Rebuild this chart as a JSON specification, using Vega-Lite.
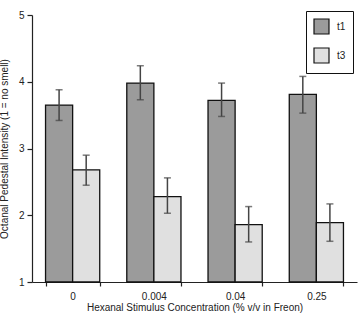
{
  "$schema": "https://vega.github.io/schema/vega-lite/v6.json",
  "autosize": "none",
  "width": 325,
  "height": 267,
  "padding": {"left": 32, "top": 15, "right": 1, "bottom": 32},
  "background": "white",
  "config": {
    "font": "Liberation Sans",
    "view": {"stroke": null},
    "axis": {"grid": false, "domainColor": "#222", "tickColor": "#222", "labelColor": "#222", "titleColor": "#222", "labelFontSize": 10, "titleFontSize": 10, "titleFontWeight": "normal", "domainWidth": 1.2, "tickWidth": 1.2}
  },
  "data": {
    "values": [
      {"conc": "0", "series": "t1", "mean": 3.65, "lo": 3.42, "hi": 3.88},
      {"conc": "0", "series": "t3", "mean": 2.68, "lo": 2.45, "hi": 2.90},
      {"conc": "0.004", "series": "t1", "mean": 3.98, "lo": 3.73, "hi": 4.24},
      {"conc": "0.004", "series": "t3", "mean": 2.28, "lo": 2.03, "hi": 2.56},
      {"conc": "0.04", "series": "t1", "mean": 3.72, "lo": 3.48, "hi": 3.98},
      {"conc": "0.04", "series": "t3", "mean": 1.86, "lo": 1.60, "hi": 2.13},
      {"conc": "0.25", "series": "t1", "mean": 3.81, "lo": 3.53, "hi": 4.08},
      {"conc": "0.25", "series": "t3", "mean": 1.89, "lo": 1.61, "hi": 2.17}
    ]
  },
  "encoding": {
    "x": {
      "field": "conc", "type": "nominal", "sort": ["0", "0.004", "0.04", "0.25"],
      "scale": {"paddingInner": 0.333, "paddingOuter": 0.1667},
      "axis": {"title": "Hexanal Stimulus Concentration (% v/v in Freon)", "labelAngle": 0, "tickBand": "extent", "tickSize": 4, "labelPadding": 5, "titlePadding": 1}
    },
    "xOffset": {"field": "series", "type": "nominal", "scale": {"paddingInner": 0, "paddingOuter": 0}}
  },
  "layer": [
    {
      "mark": {"type": "bar", "stroke": "#111", "strokeWidth": 1.3},
      "encoding": {
        "y": {
          "field": "mean", "type": "quantitative",
          "scale": {"domain": [1, 5], "nice": false, "zero": false},
          "axis": {"title": "Octanal Pedestal Intensity (1 = no smell)", "values": [1, 2, 3, 4, 5], "format": "d", "tickSize": 5, "labelPadding": 3, "titlePadding": 9}
        },
        "y2": {"datum": 1},
        "fill": {
          "field": "series", "type": "nominal",
          "scale": {"domain": ["t1", "t3"], "range": ["#9b9b9b", "#e0e0e0"]},
          "legend": {
            "title": null, "orient": "none", "legendX": 274, "legendY": -4,
            "symbolType": "square", "symbolSize": 225, "symbolStrokeColor": "#111", "symbolStrokeWidth": 1.2,
            "strokeColor": "#111", "padding": 7, "rowPadding": 8, "labelFontSize": 10, "labelColor": "#222", "labelOffset": 7
          }
        }
      }
    },
    {
      "mark": {"type": "rule", "color": "#444", "strokeWidth": 1.5},
      "encoding": {
        "y": {"field": "lo", "type": "quantitative", "axis": {"title": "Octanal Pedestal Intensity (1 = no smell)", "values": [1, 2, 3, 4, 5], "format": "d", "tickSize": 5, "labelPadding": 3, "titlePadding": 9}},
        "y2": {"field": "hi"}
      }
    },
    {
      "mark": {"type": "tick", "color": "#444", "size": 7, "thickness": 1.5},
      "encoding": {"y": {"field": "lo", "type": "quantitative", "axis": {"title": "Octanal Pedestal Intensity (1 = no smell)", "values": [1, 2, 3, 4, 5], "format": "d", "tickSize": 5, "labelPadding": 3, "titlePadding": 9}}}
    },
    {
      "mark": {"type": "tick", "color": "#444", "size": 7, "thickness": 1.5},
      "encoding": {"y": {"field": "hi", "type": "quantitative", "axis": {"title": "Octanal Pedestal Intensity (1 = no smell)", "values": [1, 2, 3, 4, 5], "format": "d", "tickSize": 5, "labelPadding": 3, "titlePadding": 9}}}
    }
  ]
}
